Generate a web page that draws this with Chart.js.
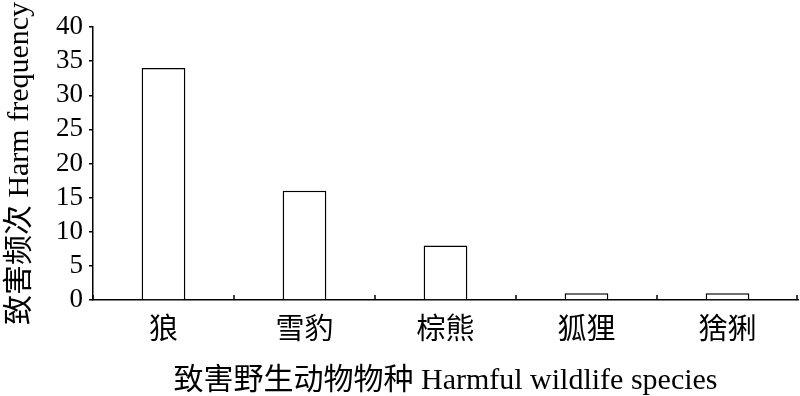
<!DOCTYPE html>
<html>
<head>
<meta charset="utf-8">
<script src="https://cdn.jsdelivr.net/npm/chart.js@4"></script>
<style>
  html, body { margin: 0; padding: 0; background: #fff; }
  #wrap { width: 800px; height: 396px; }
</style>
</head>
<body>
<div id="wrap"><canvas id="harmChart"></canvas></div>
<script>
// 数据
const species = ["狼", "雪豹", "棕熊", "狐狸", "猞猁"];
const harmCounts = [34, 16, 8, 1, 1];
const yTicks = [0, 5, 10, 15, 20, 25, 30, 35, 40];

const serif = "'Liberation Serif', 'Times New Roman', 'Noto Sans CJK SC', serif";

// x 轴上向内的小刻度（类别分界处）
const innerTicks = {
    id: "innerTicks",
    afterDraw(chart) {
        const x = chart.scales.x;
        const ctx = chart.ctx;
        const y0 = chart.chartArea.bottom;
        ctx.save();
        ctx.strokeStyle = "#000";
        ctx.lineWidth = 1.5;
        for (let i = 0; i <= species.length; i++) {
            let px;
            if (i === 0) px = x.left;
            else if (i === species.length) px = x.right - 1;
            else px = (x.getPixelForValue(i - 1) + x.getPixelForValue(i)) / 2;
            ctx.beginPath();
            ctx.moveTo(px, y0);
            ctx.lineTo(px, y0 - 5);
            ctx.stroke();
        }
        ctx.restore();
    }
};

const ctx = document.getElementById("harmChart").getContext("2d");
new Chart(ctx, {
    type: "bar",
    data: {
        labels: species,
        datasets: [{
            data: harmCounts,
            backgroundColor: "#fff",
            borderColor: "#000",
            borderWidth: 1.5,
            barPercentage: 0.31,
            categoryPercentage: 1
        }]
    },
    options: {
        responsive: true,
        maintainAspectRatio: false,
        animation: false,
        layout: { padding: { top: 27, right: 2, left: 0, bottom: 0 } },
        plugins: {
            legend: { display: false },
            tooltip: { enabled: false }
        },
        scales: {
            x: {
                afterFit: s => { s.height = 96; },
                grid: { display: false, drawTicks: false },
                border: { color: "#000", width: 1.5 },
                ticks: {
                    color: "#000",
                    padding: 11,
                    font: { family: "'Noto Sans CJK SC', serif", size: 29 }
                },
                title: {
                    display: true,
                    text: "致害野生动物物种 Harmful wildlife species",
                    color: "#000",
                    font: { family: serif, size: 30, lineHeight: 1 },
                    padding: { top: 0, bottom: 0 }
                }
            },
            y: {
                min: 0,
                max: 40,
                afterFit: s => { s.width = 93; },
                afterBuildTicks: s => { s.ticks = yTicks.map(v => ({ value: v })); },
                grid: {
                    drawOnChartArea: false,
                    tickLength: 4,
                    color: "#000",
                    lineWidth: 1.5
                },
                border: { color: "#000", width: 1.5 },
                ticks: {
                    color: "#000",
                    padding: 6,
                    autoSkip: false,
                    font: { family: serif, size: 27, lineHeight: 1 }
                },
                title: {
                    display: true,
                    text: "致害频次 Harm frequency",
                    color: "#000",
                    font: { family: serif, size: 30 },
                    padding: { top: 2, bottom: 0 }
                }
            }
        }
    },
    plugins: [innerTicks]
});
</script>
</body>
</html>
